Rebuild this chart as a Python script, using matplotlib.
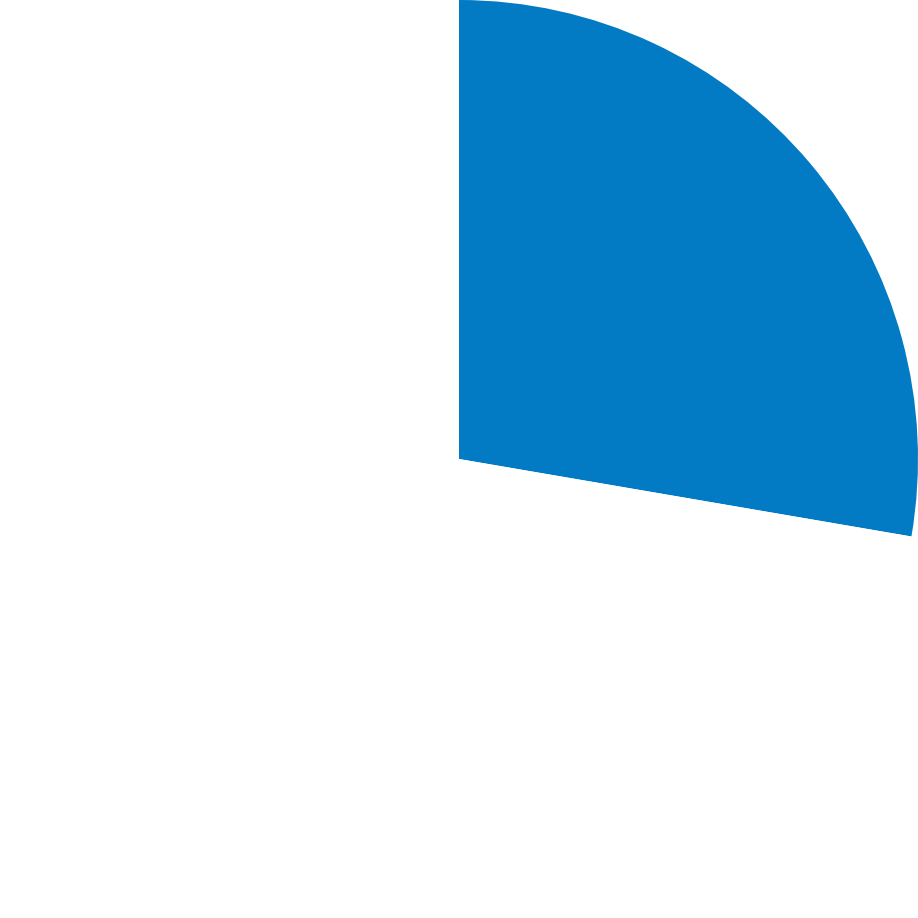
import matplotlib
matplotlib.use("Agg")
import matplotlib.pyplot as plt

# one highlighted share, the rest left blank
labels = ["share", "rest"]
values = [27.7, 72.3]
colors = ["#027bc4", "#ffffff"]

fig = plt.figure(figsize=(9.18, 9.18), dpi=100)
ax = fig.add_axes([0, 0, 1, 1])
ax.pie(values, colors=colors, startangle=90, counterclock=False, radius=1.0,
       wedgeprops=dict(linewidth=0))
ax.set_xlim(-1.0, 1.0)
ax.set_ylim(-1.0, 1.0)
ax.set_aspect("equal")
ax.axis("off")

fig.savefig("out.png", dpi=100, facecolor="white")
